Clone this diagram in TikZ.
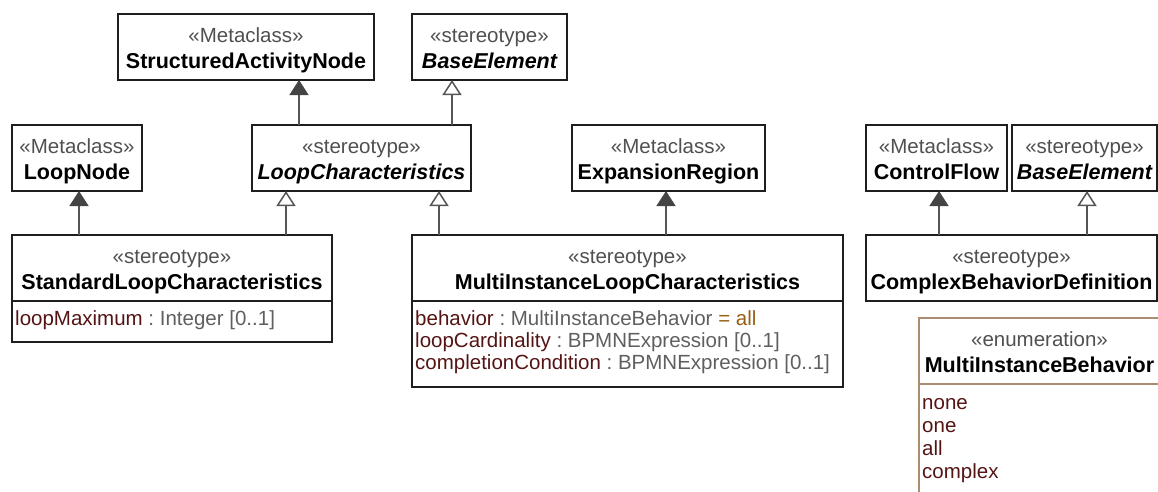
\documentclass[tikz,border=0pt]{standalone}
\usepackage{fontspec}
\setmainfont{Liberation Sans}
\usetikzlibrary{arrows.meta}
\frenchspacing

\definecolor{boxline}{RGB}{30,30,30}
\definecolor{connline}{RGB}{85,85,85}
\definecolor{tipfill}{RGB}{68,68,68}
\definecolor{stereotxt}{RGB}{80,80,80}
\definecolor{attrname}{RGB}{85,20,20}
\definecolor{attrtype}{RGB}{95,95,95}
\definecolor{defval}{RGB}{150,95,20}
\definecolor{enumline}{RGB}{170,140,110}

\tikzset{
  classbox/.style={draw=boxline, line width=1.5pt, inner sep=0pt, outer sep=0pt,
    anchor=north west, minimum height=66},
  enumbox/.style={draw=enumline, line width=1.5pt, inner sep=0pt, outer sep=0pt,
    anchor=north west},
  stereolabel/.style={anchor=base, inner sep=0pt, text=stereotxt,
    font=\fontsize{20.5}{24}\selectfont},
  namelabel/.style={anchor=base, inner sep=0pt, text=black,
    font=\fontsize{21.5}{24}\selectfont\bfseries},
  abstractlabel/.style={namelabel, font=\fontsize{21.5}{24}\selectfont\bfseries\itshape},
  attrlabel/.style={anchor=base west, inner sep=0pt, text=attrtype,
    font=\fontsize{20.5}{24}\selectfont},
  extension/.style={draw=connline, line width=1.5pt,
    -{Triangle[width=19pt,length=15pt,color=tipfill,fill=tipfill]}},
  generalization/.style={draw=connline, line width=1.5pt,
    -{Triangle[open,width=19pt,length=15pt,fill=white]}},
}

% class header: id, x, y, width, stereotype, name style, name
\newcommand\umlheader[7]{%
  \node[classbox, minimum width=#4] (#1) at (#2,#3) {};
  \node[stereolabel] (#1-st) at ([yshift=-28pt]#1.north) {«#5»};
  \node[#6] (#1-nm) at ([yshift=-54pt]#1.north) {#7};
}

\begin{document}
\begin{tikzpicture}[x=1pt,y=-1pt]
\useasboundingbox (0,0) rectangle (1158,491);
\clip (0,0) rectangle (1158,491);

% top row
\umlheader{san}{118}{14}{256}{Metaclass}{namelabel}{StructuredActivityNode}
\umlheader{beA}{412}{14}{155}{stereotype}{abstractlabel}{BaseElement}

% middle row
\umlheader{lnode}{12}{125}{130}{Metaclass}{namelabel}{LoopNode}
\umlheader{lchar}{252}{125}{219}{stereotype}{abstractlabel}{LoopCharacteristics}
\umlheader{expreg}{572}{125}{193}{Metaclass}{namelabel}{ExpansionRegion}
\umlheader{cflow}{866}{125}{141}{Metaclass}{namelabel}{ControlFlow}
\umlheader{beB}{1012}{125}{145}{stereotype}{abstractlabel}{BaseElement}

% bottom row
\umlheader{std}{12}{235}{320}{stereotype}{namelabel}{StandardLoopCharacteristics}
\node[classbox, minimum width=320, minimum height=41] (std-attr) at (std.south west) {};
\node[attrlabel] (std-a1) at ([xshift=3pt,yshift=-24pt]std-attr.north west)
  {{\color{attrname}loopMaximum} : Integer [0..1]};

\umlheader{multi}{412}{235}{431}{stereotype}{namelabel}{MultiInstanceLoopCharacteristics}
\node[classbox, minimum width=431, minimum height=86] (multi-attr) at (multi.south west) {};
\node[attrlabel] (multi-a1) at ([xshift=3pt,yshift=-24pt]multi-attr.north west)
  {{\color{attrname}behavior} : MultiInstanceBehavior {\color{defval}= all}};
\node[attrlabel] (multi-a2) at ([xshift=3pt,yshift=-46pt]multi-attr.north west)
  {{\color{attrname}loopCardinality} : BPMNExpression [0..1]};
\node[attrlabel] (multi-a3) at ([xshift=3pt,yshift=-68pt]multi-attr.north west)
  {{\color{attrname}completionCondition} : BPMNExpression [0..1]};

\umlheader{cbd}{866}{235}{291}{stereotype}{namelabel}{ComplexBehaviorDefinition}

% enumeration
\node[enumbox, minimum width=241, minimum height=200] (mib) at (919,318) {};
\node[stereolabel] (mib-st) at ([yshift=-28pt]mib.north) {«enumeration»};
\node[namelabel] (mib-nm) at ([yshift=-54pt]mib.north) {MultiInstanceBehavior};
\coordinate (mib-sepl) at ([yshift=-66pt]mib.north west);
\coordinate (mib-sepr) at ([yshift=-66pt]mib.north east);
\draw[draw=enumline, line width=1.5pt] (mib-sepl) -- (mib-sepr);
\node[attrlabel, text=attrname] (mib-l1) at ([xshift=3pt,yshift=-25pt]mib-sepl) {none};
\node[attrlabel, text=attrname] (mib-l2) at ([xshift=3pt,yshift=-48pt]mib-sepl) {one};
\node[attrlabel, text=attrname] (mib-l3) at ([xshift=3pt,yshift=-71pt]mib-sepl) {all};
\node[attrlabel, text=attrname] (mib-l4) at ([xshift=3pt,yshift=-94pt]mib-sepl) {complex};

% connector feet
\path (lchar.north west) ++(47,0) coordinate (lchar-up1);
\path (lchar.north west) ++(200,0) coordinate (lchar-up2);
\path (std.north west) ++(67,0) coordinate (std-up1);
\path (std.north west) ++(274,0) coordinate (std-up2);
\path (multi.north west) ++(27,0) coordinate (multi-up1);
\path (multi.north west) ++(254,0) coordinate (multi-up2);
\path (cbd.north west) ++(73,0) coordinate (cbd-up1);
\path (cbd.north west) ++(221,0) coordinate (cbd-up2);

% extensions and generalizations
\draw[extension] (lchar-up1) -- (lchar-up1 |- san.south);
\draw[generalization] (lchar-up2) -- (lchar-up2 |- beA.south);
\draw[extension] (std-up1) -- (std-up1 |- lnode.south);
\draw[generalization] (std-up2) -- (std-up2 |- lchar.south);
\draw[generalization] (multi-up1) -- (multi-up1 |- lchar.south);
\draw[extension] (multi-up2) -- (multi-up2 |- expreg.south);
\draw[extension] (cbd-up1) -- (cbd-up1 |- cflow.south);
\draw[generalization] (cbd-up2) -- (cbd-up2 |- beB.south);
\end{tikzpicture}
\end{document}
